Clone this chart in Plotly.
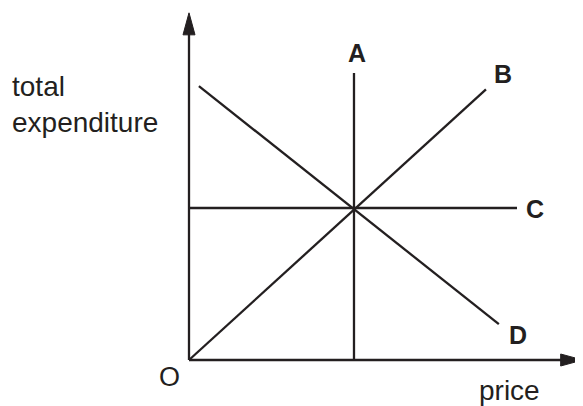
import plotly.graph_objects as go

# diagram units: price on x, total expenditure on y, lines cross at (5, 5)
line_a_x = [5, 5]
line_a_y = [0, 9.44]
line_b_x = [0, 9.0]
line_b_y = [0, 8.9]
line_c_x = [0, 9.94]
line_c_y = [5, 5]
line_d_x = [0.3, 9.39]
line_d_y = [9.01, 1.18]

axis_x_end = 11.93
axis_y_end = 11.42

labels = ['A', 'B', 'C', 'D']
label_x = [5.09, 9.52, 10.48, 9.97]
label_y = [10.10, 9.41, 4.97, 0.82]

ink = '#231f20'
font = 'Liberation Sans, Arial, sans-serif'
head_len, head_half = 22, 6   # arrowhead size in px

fig = go.Figure()
for xs, ys in [(line_a_x, line_a_y), (line_b_x, line_b_y),
               (line_c_x, line_c_y), (line_d_x, line_d_y)]:
    fig.add_trace(go.Scatter(x=xs, y=ys, mode='lines',
                             line=dict(color=ink, width=2.3), hoverinfo='skip'))

# axes
fig.add_trace(go.Scatter(x=[0, axis_x_end - 0.3], y=[0, 0], mode='lines',
                         line=dict(color=ink, width=2.3), hoverinfo='skip'))
fig.add_trace(go.Scatter(x=[0, 0], y=[0, axis_y_end - 0.3], mode='lines',
                         line=dict(color=ink, width=2.3), hoverinfo='skip'))
# arrowheads, drawn in pixels around the axis ends
fig.add_shape(type='path', xref='x', yref='y', xsizemode='pixel', ysizemode='pixel',
              xanchor=axis_x_end, yanchor=0,
              path='M0,0 L%d,%d L%d,%d Z' % (-head_len, head_half, -head_len, -head_half),
              fillcolor=ink, line=dict(color=ink, width=1))
fig.add_shape(type='path', xref='x', yref='y', xsizemode='pixel', ysizemode='pixel',
              xanchor=0, yanchor=axis_y_end,
              path='M0,0 L%d,%d L%d,%d Z' % (-head_half, -head_len, head_half, -head_len),
              fillcolor=ink, line=dict(color=ink, width=1))

for t, x, y in zip(labels, label_x, label_y):
    fig.add_annotation(x=x, y=y, text='<b>' + t + '</b>', showarrow=False,
                       font=dict(size=25, color=ink, family=font))

fig.add_annotation(x=-0.58, y=-0.56, text='O', showarrow=False,
                   font=dict(size=27, color=ink, family=font))
fig.add_annotation(x=9.70, y=-0.99, text='price', showarrow=False,
                   font=dict(size=28, color=ink, family=font))
fig.add_annotation(x=-5.42, y=8.40, text='total<br>expenditure', showarrow=False,
                   xanchor='left', align='left',
                   font=dict(size=28, color=ink, family=font))

# page body has an 8px margin, so the figure is 8px smaller and the ranges start there
fig.update_layout(width=575, height=398, margin=dict(l=0, r=0, t=0, b=0),
                  plot_bgcolor='white', paper_bgcolor='white', showlegend=False)
fig.update_xaxes(range=[-5.485, 11.94], visible=False)
fig.update_yaxes(range=[-1.513, 11.579], visible=False)

fig.write_html("out.html")
